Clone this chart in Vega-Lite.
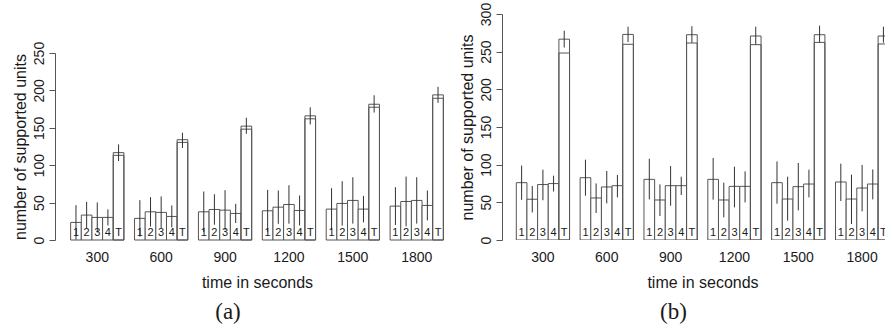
{
  "$schema": "https://vega.github.io/schema/vega-lite/v6.json",
  "padding": {"left": 12, "top": 2, "right": 0, "bottom": 0},
  "background": "white",
  "spacing": 43,
  "bounds": "flush",
  "config": {
    "view": {"stroke": null},
    "font": "Liberation Sans",
    "axis": {"labelFont": "Liberation Sans", "titleFont": "Liberation Sans", "labelColor": "#1a1a1a", "titleColor": "#1a1a1a", "domainColor": "#555", "tickColor": "#555", "titleFontWeight": "normal", "grid": false, "labelOverlap": false},
    "axisY": {"labelAngle": 270, "labelFontSize": 14, "tickSize": 6, "labelPadding": 3, "titleFontSize": 16, "titlePadding": 4, "labelOverlap": false},
    "axisX": {"domain": false, "ticks": false, "labelAngle": 0, "labelFontSize": 14, "labelPadding": 10, "titleFontSize": 16, "titlePadding": 10},
    "title": {"font": "Liberation Serif", "fontSize": 23, "fontWeight": "normal", "color": "#1a1a1a"}
  },
  "hconcat": [
    {
      "width": 404,
      "height": 226,
      "title": {"text": "(a)", "orient": "bottom", "anchor": "middle", "frame": "group", "dx": -29, "offset": 11},
      "data": {"values": [
        {"time": 300, "series": "1", "value": 23.5, "lo": 0.5, "hi": 46.6},
        {"time": 300, "series": "2", "value": 33.3, "lo": 15.6, "hi": 51},
        {"time": 300, "series": "3", "value": 30.2, "lo": 10, "hi": 50.2},
        {"time": 300, "series": "4", "value": 30.2, "lo": 19.5, "hi": 40.9},
        {"time": 300, "series": "T", "value": 116.8, "inner": 113.2, "lo": 105.6, "hi": 127.8},
        {"time": 600, "series": "1", "value": 28.9, "lo": 4.5, "hi": 53.3},
        {"time": 600, "series": "2", "value": 37.7, "lo": 18, "hi": 57.3},
        {"time": 600, "series": "3", "value": 36.9, "lo": 15.6, "hi": 58.2},
        {"time": 600, "series": "4", "value": 31.5, "lo": 16.8, "hi": 46.2},
        {"time": 600, "series": "T", "value": 134.1, "inner": 130.5, "lo": 123, "hi": 143.4},
        {"time": 900, "series": "1", "value": 37.7, "lo": 10.6, "hi": 64.8},
        {"time": 900, "series": "2", "value": 40.8, "lo": 20.4, "hi": 61.2},
        {"time": 900, "series": "3", "value": 39.9, "lo": 13.2, "hi": 66.6},
        {"time": 900, "series": "4", "value": 35.5, "lo": 22.7, "hi": 48.3},
        {"time": 900, "series": "T", "value": 152.2, "inner": 148.2, "lo": 142, "hi": 163.4},
        {"time": 1200, "series": "1", "value": 39.1, "lo": 11, "hi": 67},
        {"time": 1200, "series": "2", "value": 43.9, "lo": 21.6, "hi": 66.2},
        {"time": 1200, "series": "3", "value": 47.5, "lo": 21.8, "hi": 73.2},
        {"time": 1200, "series": "4", "value": 39.5, "lo": 19.5, "hi": 59.5},
        {"time": 1200, "series": "T", "value": 166, "inner": 162, "lo": 154.5, "hi": 177.5},
        {"time": 1500, "series": "1", "value": 41.3, "lo": 13.4, "hi": 69.2},
        {"time": 1500, "series": "2", "value": 48.9, "lo": 19.2, "hi": 78.6},
        {"time": 1500, "series": "3", "value": 52.9, "lo": 21.9, "hi": 83.9},
        {"time": 1500, "series": "4", "value": 41.3, "lo": 23.6, "hi": 59},
        {"time": 1500, "series": "T", "value": 181.5, "inner": 177.5, "lo": 170.4, "hi": 193.5},
        {"time": 1800, "series": "1", "value": 45.3, "lo": 20, "hi": 70.6},
        {"time": 1800, "series": "2", "value": 51.5, "lo": 18.2, "hi": 84.8},
        {"time": 1800, "series": "3", "value": 52.9, "lo": 21.9, "hi": 83.9},
        {"time": 1800, "series": "4", "value": 46.2, "lo": 26.2, "hi": 66.2},
        {"time": 1800, "series": "T", "value": 194, "inner": 189.5, "lo": 183.4, "hi": 204.7}
      ]},
      "encoding": {
        "x": {"field": "time", "type": "ordinal", "scale": {"paddingInner": 0.1667, "paddingOuter": 0.245}, "axis": {"title": "time in seconds"}},
        "xOffset": {"field": "series", "type": "nominal", "scale": {"paddingInner": 0, "paddingOuter": 0}}
      },
      "layer": [
        {"mark": {"type": "bar", "fill": "white", "stroke": "#555", "strokeWidth": 1},
         "encoding": {"y": {"field": "value", "type": "quantitative", "title": "number of supported units", "scale": {"domain": [0, 250], "range": [226, 39], "nice": false}, "axis": {"values": [0, 50, 100, 150, 200, 250], "labelOverlap": false}}}},
        {"transform": [{"filter": "isValid(datum.inner)"}],
         "mark": {"type": "bar", "fill": "white", "fillOpacity": 0, "stroke": "#555", "strokeWidth": 1},
         "encoding": {"y": {"field": "inner", "type": "quantitative", "title": "number of supported units", "axis": {"values": [0, 50, 100, 150, 200, 250], "labelOverlap": false}}}},
        {"mark": {"type": "rule", "stroke": "#333", "strokeWidth": 1},
         "encoding": {"y": {"field": "lo", "type": "quantitative", "title": "number of supported units", "axis": {"values": [0, 50, 100, 150, 200, 250], "labelOverlap": false}}, "y2": {"field": "hi"}}},
        {"mark": {"type": "text", "fontSize": 11, "baseline": "alphabetic", "dy": -4, "color": "#1a1a1a"},
         "encoding": {"y": {"datum": 0, "type": "quantitative", "title": "number of supported units", "axis": {"values": [0, 50, 100, 150, 200, 250], "labelOverlap": false}}, "text": {"field": "series"}}}
      ]
    },
    {
      "width": 383,
      "height": 226,
      "title": {"text": "(b)", "orient": "bottom", "anchor": "middle", "frame": "group", "dx": -20, "offset": 11},
      "data": {"values": [
        {"time": 300, "series": "1", "value": 76.1, "lo": 53.3, "hi": 98.8},
        {"time": 300, "series": "2", "value": 54.1, "lo": 36.6, "hi": 71.7},
        {"time": 300, "series": "3", "value": 73.6, "lo": 52.8, "hi": 93.3},
        {"time": 300, "series": "4", "value": 74.9, "lo": 64.4, "hi": 85.4},
        {"time": 300, "series": "T", "value": 266.6, "inner": 248.2, "lo": 255.5, "hi": 277.8},
        {"time": 600, "series": "1", "value": 82.7, "lo": 58.8, "hi": 106.6},
        {"time": 600, "series": "2", "value": 55.8, "lo": 35.8, "hi": 75.1},
        {"time": 600, "series": "3", "value": 70.4, "lo": 48.6, "hi": 91.6},
        {"time": 600, "series": "4", "value": 72.1, "lo": 56.6, "hi": 86.3},
        {"time": 600, "series": "T", "value": 272.9, "inner": 259.8, "lo": 262.8, "hi": 283.1},
        {"time": 900, "series": "1", "value": 80.5, "lo": 53.9, "hi": 107.9},
        {"time": 900, "series": "2", "value": 53.1, "lo": 31.9, "hi": 73.8},
        {"time": 900, "series": "3", "value": 72.1, "lo": 45.5, "hi": 98.2},
        {"time": 900, "series": "4", "value": 72.1, "lo": 59.7, "hi": 84},
        {"time": 900, "series": "T", "value": 272.5, "inner": 261.5, "lo": 261.9, "hi": 283.8},
        {"time": 1200, "series": "1", "value": 80.5, "lo": 53.5, "hi": 108.9},
        {"time": 1200, "series": "2", "value": 53.1, "lo": 30, "hi": 76.1},
        {"time": 1200, "series": "3", "value": 71.2, "lo": 43.3, "hi": 97.3},
        {"time": 1200, "series": "4", "value": 71.2, "lo": 49.9, "hi": 91.1},
        {"time": 1200, "series": "T", "value": 270.8, "inner": 259.3, "lo": 259.3, "hi": 283.1},
        {"time": 1500, "series": "1", "value": 76.1, "lo": 48.2, "hi": 104.3},
        {"time": 1500, "series": "2", "value": 54.4, "lo": 25.6, "hi": 84},
        {"time": 1500, "series": "3", "value": 70.8, "lo": 39.3, "hi": 102.2},
        {"time": 1500, "series": "4", "value": 74.3, "lo": 56.6, "hi": 93.3},
        {"time": 1500, "series": "T", "value": 272.5, "inner": 262.3, "lo": 262.3, "hi": 284.5},
        {"time": 1800, "series": "1", "value": 77, "lo": 51.8, "hi": 101.3},
        {"time": 1800, "series": "2", "value": 54.4, "lo": 21.2, "hi": 86.7},
        {"time": 1800, "series": "3", "value": 69, "lo": 38, "hi": 99.6},
        {"time": 1800, "series": "4", "value": 74.3, "lo": 53.9, "hi": 93.7},
        {"time": 1800, "series": "T", "value": 270.8, "inner": 260.2, "lo": 262, "hi": 283.1}
      ]},
      "encoding": {
        "x": {"field": "time", "type": "ordinal", "scale": {"paddingInner": 0.1667, "paddingOuter": 0.224, "range": [0, 401]}, "axis": {"title": "time in seconds"}},
        "xOffset": {"field": "series", "type": "nominal", "scale": {"paddingInner": 0, "paddingOuter": 0}}
      },
      "layer": [
        {"mark": {"type": "bar", "fill": "white", "stroke": "#555", "strokeWidth": 1, "clip": true},
         "encoding": {"y": {"field": "value", "type": "quantitative", "title": "number of supported units", "scale": {"domain": [0, 300], "nice": false}, "axis": {"values": [0, 50, 100, 150, 200, 250, 300], "labelOverlap": false}}}},
        {"transform": [{"filter": "isValid(datum.inner)"}],
         "mark": {"type": "bar", "fill": "white", "fillOpacity": 0, "stroke": "#555", "strokeWidth": 1, "clip": true},
         "encoding": {"y": {"field": "inner", "type": "quantitative", "title": "number of supported units", "axis": {"values": [0, 50, 100, 150, 200, 250, 300], "labelOverlap": false}}}},
        {"mark": {"type": "rule", "stroke": "#333", "strokeWidth": 1, "clip": true},
         "encoding": {"y": {"field": "lo", "type": "quantitative", "title": "number of supported units", "axis": {"values": [0, 50, 100, 150, 200, 250, 300], "labelOverlap": false}}, "y2": {"field": "hi"}}},
        {"mark": {"type": "text", "fontSize": 11, "baseline": "alphabetic", "dy": -4, "color": "#1a1a1a", "clip": true},
         "encoding": {"y": {"datum": 0, "type": "quantitative", "title": "number of supported units", "axis": {"values": [0, 50, 100, 150, 200, 250, 300], "labelOverlap": false}}, "text": {"field": "series"}}}
      ]
    }
  ]
}
